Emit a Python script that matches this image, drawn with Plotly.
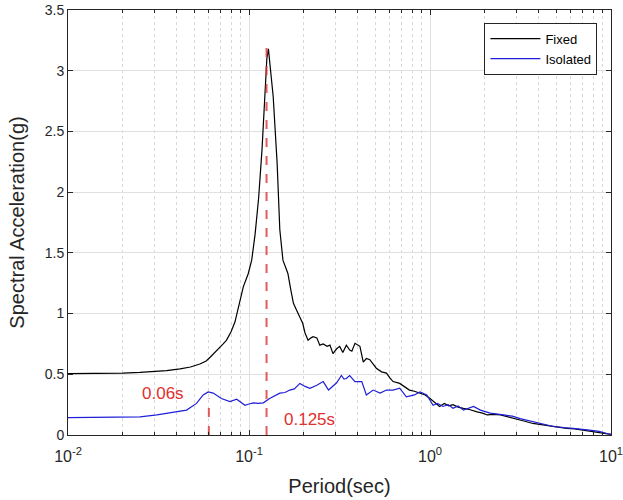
import math
import plotly.graph_objects as go

# Fixed-base response spectrum (period s, Sa g)
fixed_T = [0.01, 0.015, 0.02, 0.025, 0.03, 0.035, 0.0416, 0.0475, 0.0535, 0.058, 0.061, 0.066, 0.072, 0.075,
           0.0796, 0.0836, 0.087, 0.093, 0.0991, 0.1035, 0.108, 0.113, 0.118, 0.122, 0.1255, 0.128, 0.131,
           0.136, 0.143, 0.148, 0.154, 0.164, 0.170, 0.176, 0.183, 0.191, 0.198, 0.204, 0.212, 0.22, 0.226,
           0.237, 0.246, 0.257, 0.27, 0.28, 0.291, 0.305, 0.317, 0.33, 0.345, 0.36, 0.37, 0.385, 0.41, 0.428,
           0.445, 0.465, 0.485, 0.505, 0.54, 0.575, 0.6, 0.625, 0.68, 0.72, 0.77, 0.82, 0.88, 0.94, 1.0, 1.06,
           1.13, 1.2, 1.27, 1.34, 1.43, 1.53, 1.65, 1.82, 1.95, 2.07, 2.25, 2.45, 2.7, 3.0, 3.3, 3.7, 4.1, 4.6,
           5.1, 5.7, 6.3, 7.0, 7.8, 8.7, 9.3, 10.0]
fixed_Sa = [0.505, 0.505, 0.51, 0.515, 0.52, 0.53, 0.545, 0.56, 0.585, 0.61, 0.64, 0.69, 0.75, 0.78,
            0.85, 0.93, 1.03, 1.22, 1.33, 1.44, 1.65, 1.95, 2.35, 2.75, 3.1, 3.18, 3.05,
            2.79, 2.24, 1.69, 1.44, 1.33, 1.2, 1.085, 1.03, 0.975, 0.92, 0.84, 0.78, 0.80, 0.81,
            0.80, 0.74, 0.75, 0.73, 0.74, 0.67, 0.71, 0.73, 0.68, 0.74, 0.70, 0.69, 0.755, 0.73, 0.60,
            0.63, 0.62, 0.58, 0.55, 0.52, 0.51, 0.47, 0.44, 0.425, 0.40, 0.37, 0.36, 0.345, 0.33, 0.30, 0.27,
            0.235, 0.26, 0.24, 0.25, 0.23, 0.22, 0.21, 0.19, 0.18, 0.165, 0.17, 0.165, 0.15, 0.135, 0.115, 0.095, 0.085, 0.07,
            0.063, 0.055, 0.05, 0.04, 0.03, 0.02, 0.012, 0.005]

# Base-isolated response spectrum
iso_T = [0.01, 0.015, 0.02, 0.025, 0.031, 0.038, 0.0452, 0.0513, 0.0558, 0.0595, 0.0634, 0.0704, 0.0784,
         0.0855, 0.091, 0.095, 0.1, 0.1056, 0.112, 0.12, 0.13, 0.139, 0.148, 0.158, 0.168, 0.178, 0.187,
         0.191, 0.204, 0.217, 0.237, 0.257, 0.275, 0.291, 0.305, 0.324, 0.335, 0.345, 0.36, 0.385, 0.42,
         0.445, 0.485, 0.53, 0.575, 0.625, 0.68, 0.74, 0.82, 0.88, 0.96, 1.04, 1.1, 1.18, 1.26, 1.34, 1.43,
         1.53, 1.63, 1.74, 1.9, 2.15, 2.55, 2.85, 3.15, 3.7, 4.2, 4.8, 5.5, 6.2, 7.6, 8.6, 9.6, 10.0]
iso_Sa = [0.143, 0.145, 0.148, 0.15, 0.165, 0.185, 0.205, 0.26, 0.33, 0.355, 0.345, 0.30, 0.275,
          0.295, 0.265, 0.245, 0.255, 0.265, 0.26, 0.265, 0.30, 0.32, 0.345, 0.35, 0.37, 0.38, 0.41,
          0.425, 0.40, 0.385, 0.41, 0.44, 0.37, 0.40, 0.43, 0.49, 0.46, 0.465, 0.49, 0.44, 0.44,
          0.33, 0.37, 0.345, 0.37, 0.37, 0.385, 0.315, 0.33, 0.355, 0.33, 0.245, 0.26, 0.235, 0.25, 0.22, 0.24,
          0.205, 0.22, 0.235, 0.205, 0.18, 0.165, 0.155, 0.135, 0.11, 0.09, 0.07, 0.06, 0.055, 0.04, 0.03, 0.01, 0.005]

# Marked periods
mark_T = [0.06, 0.125]
mark_top = [0.30, 3.2]
mark_text = ["0.06s", "0.125s"]
mark_label_T = [0.0335, 0.215]
mark_label_Sa = [0.345, 0.13]

x_tickvals = [0.01, 0.1, 1, 10]
x_ticktext = ["10<sup>-2</sup>", "10<sup>-1</sup>", "10<sup>0</sup>", "10<sup>1</sup>"]
x_minorvals = [m * d for d in (0.01, 0.1, 1) for m in range(2, 10)]
y_tickvals = [0, 0.5, 1, 1.5, 2, 2.5, 3, 3.5]
y_ticktext = ["0", "0.5", "1", "1.5", "2", "2.5", "3", "3.5"]

fig = go.Figure()
fig.add_trace(go.Scatter(x=fixed_T, y=fixed_Sa, mode="lines", name="Fixed",
                         line=dict(color="black", width=1.2)))
fig.add_trace(go.Scatter(x=iso_T, y=iso_Sa, mode="lines", name="Isolated",
                         line=dict(color="#1f1fd8", width=1.2)))

for t, top in zip(mark_T, mark_top):
    fig.add_trace(go.Scatter(x=[t, t], y=[0, top], mode="lines", showlegend=False,
                             line=dict(color="rgba(220,50,50,0.8)", width=2, dash="dash")))

for t, s, txt in zip(mark_label_T, mark_label_Sa, mark_text):
    fig.add_annotation(x=math.log10(t), y=s, xref="x", yref="y", text=txt, showarrow=False,
                       font=dict(color="#e03030", size=17, family="Liberation Sans"))

fig.update_layout(
    width=623, height=500,
    margin=dict(l=68, r=12, t=10, b=65, autoexpand=False),
    plot_bgcolor="white", paper_bgcolor="white",
    font=dict(family="Liberation Sans", color="#262626"),
    legend=dict(x=0.975, y=0.97, xanchor="right", yanchor="top",
                bgcolor="white", bordercolor="#262626", borderwidth=1, itemwidth=50,
                font=dict(size=13, color="black"), tracegroupgap=0),
)
fig.update_xaxes(type="log", range=[-2, 1], tickvals=x_tickvals, ticktext=x_ticktext, automargin=False,
                 title=dict(text="Period(sec)", font=dict(size=20, color="#262626"), standoff=14),
                 tickfont=dict(size=16, color="#262626"), ticklabelstandoff=7, ticklabeloverflow="allow",
                 showline=True, linecolor="#262626", linewidth=1, mirror="ticks",
                 ticks="inside", ticklen=5, tickcolor="#262626",
                 showgrid=True, gridcolor="#e0e0e0", gridwidth=1, zeroline=False,
                 minor=dict(tickvals=x_minorvals, ticks="inside", ticklen=3, tickcolor="#262626",
                            showgrid=True, gridcolor="#d8d8d8", griddash="dot", gridwidth=1))
fig.update_yaxes(range=[0, 3.5], tickvals=y_tickvals, ticktext=y_ticktext, automargin=False,
                 title=dict(text="Spectral Acceleration(g)", font=dict(size=20, color="#262626"), standoff=14),
                 tickfont=dict(size=14, color="#262626"), ticklabeloverflow="allow",
                 showline=True, linecolor="#262626", linewidth=1, mirror="ticks",
                 ticks="inside", ticklen=5, tickcolor="#262626",
                 showgrid=True, gridcolor="#e0e0e0", gridwidth=1, zeroline=False)

fig.write_html("out.html", config={"displayModeBar": False},
               post_script="document.body.style.margin='0';")
